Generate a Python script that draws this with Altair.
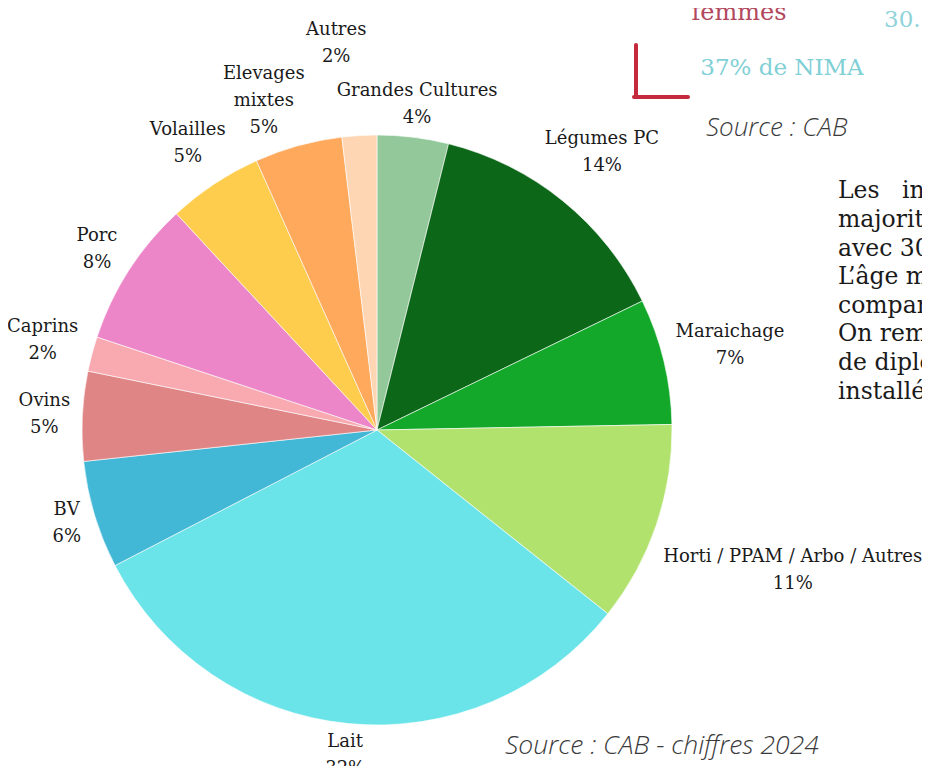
import math
import altair as alt
import pandas as pd

# ---- data ----
categories = ["Grandes Cultures", "Légumes PC", "Maraichage", "Horti / PPAM / Arbo / Autres",
              "Lait", "BV", "Ovins", "Caprins", "Porc", "Volailles", "Elevages\nmixtes", "Autres"]
shares = [3.9, 13.9, 6.9, 11.0, 31.7, 5.9, 4.9, 1.9, 8.0, 5.2, 4.8, 1.9]
pct_labels = ["4%", "14%", "7%", "11%", "32%", "6%", "5%", "2%", "8%", "5%", "5%", "2%"]
colors = ["#93C99A", "#0D6718", "#14A82B", "#B2E26E", "#6AE4E8", "#43B7D6",
          "#E08585", "#F8AAB0", "#EC86C8", "#FECD4E", "#FEA95C", "#FFD6B3"]

paragraph = ["majoritairement", "avec 30", "L\u2019âge moyen",
             "comparé", "On remarque", "de diplômés", "installés"]

# ---- layout (not data) ----
label_radius = [328, 357, 363, 439, 327, 324, 333, 346, 333, 343, 348, 389]
label_angle_nudge = [0, 0, 0, 0, 0, 0, 0, 0, 0, 0, -3.5, -2.6]   # degrees
LINE_H = 27
CX, CY, R = 369, 422, 295

total = sum(shares)
lx, ly = [], []
acc = 0.0
for s, r, n, c in zip(shares, label_radius, label_angle_nudge, categories):
    mid = (acc + s / 2) / total * 2 * math.pi + math.radians(n)
    acc += s
    nlines = c.count("\n") + 2
    lx.append(CX + r * math.sin(mid))
    ly.append(CY - r * math.cos(mid) - (nlines - 1) * LINE_H / 2)

df = pd.DataFrame({
    "cat": categories,
    "share": shares,
    "idx": list(range(len(categories))),
    "label": [c + "\n" + p for c, p in zip(categories, pct_labels)],
    "lx": lx,
    "ly": ly,
})

color_scale = alt.Scale(domain=categories, range=colors)

base = alt.Chart(df)

pie = base.mark_arc(stroke="white", strokeWidth=0.6).encode(
    theta=alt.Theta("share:Q", stack=True),
    order=alt.Order("idx:Q"),
    color=alt.Color("cat:N", scale=color_scale, legend=None),
    x=alt.value(CX), y=alt.value(CY), radius=alt.value(R),
)

labels = base.mark_text(font="DejaVu Serif", fontSize=18, lineBreak="\n", lineHeight=LINE_H,
                        align="center", baseline="middle", color="#1a1a1a").encode(
    x=alt.X("lx:Q", scale=None),
    y=alt.Y("ly:Q", scale=None),
    text="label:N",
)

def note(text, x, y, **kw):
    return alt.Chart(pd.DataFrame({"t": [text]})).mark_text(**kw).encode(
        text="t:N", x=alt.value(x), y=alt.value(y))

src1 = note("Source : CAB", 698, 128, font="Open Sans", fontStyle="italic", fontWeight=300,
            fontSize=26, align="left", baseline="alphabetic", color="#3a3a3a")
src2 = note("Source : CAB - chiffres 2024", 497, 746, font="Open Sans", fontStyle="italic",
            fontWeight=300, fontSize=26.5, align="left", baseline="alphabetic", color="#3a3a3a")
femmes = note("femmes", 731, 12, font="DejaVu Serif", fontSize=24,
              align="center", baseline="alphabetic", color="#B2485C")
age = note("30.9 ans", 876, 19, font="DejaVu Serif", fontSize=23,
           align="left", baseline="alphabetic", color="#8ED3D9")
nima = note("37% de NIMA", 774, 67, font="DejaVu Serif", fontSize=23,
            align="center", baseline="alphabetic", color="#7FD0D6")
PARA = dict(font="DejaVu Serif", fontSize=23.5, align="left", baseline="alphabetic", color="#1a1a1a")
p_les = note("Les", 830, 190, **PARA)
p_ins = note("installés", 894, 190, **PARA)
para = note("\n".join(paragraph), 830, 219, lineBreak="\n", lineHeight=28.6, **PARA)

red = "#C42A3C"
vline = alt.Chart(pd.DataFrame({"a": [0]})).mark_rule(color=red, strokeWidth=4, strokeCap="round").encode(
    x=alt.value(628), y=alt.value(37), y2=alt.value(89))
hline = alt.Chart(pd.DataFrame({"a": [0]})).mark_rule(color=red, strokeWidth=4, strokeCap="round").encode(
    x=alt.value(626), x2=alt.value(680), y=alt.value(89))

chart = alt.layer(pie, labels, src1, src2, femmes, age, nima, p_les, p_ins, para, vline, hline).properties(
    width=914, height=758, padding=0, autosize=alt.AutoSizeParams(type="none"),
    background="white",
).configure_view(stroke=None)

chart.save("out.html", embed_options={"renderer": "svg", "actions": False})
